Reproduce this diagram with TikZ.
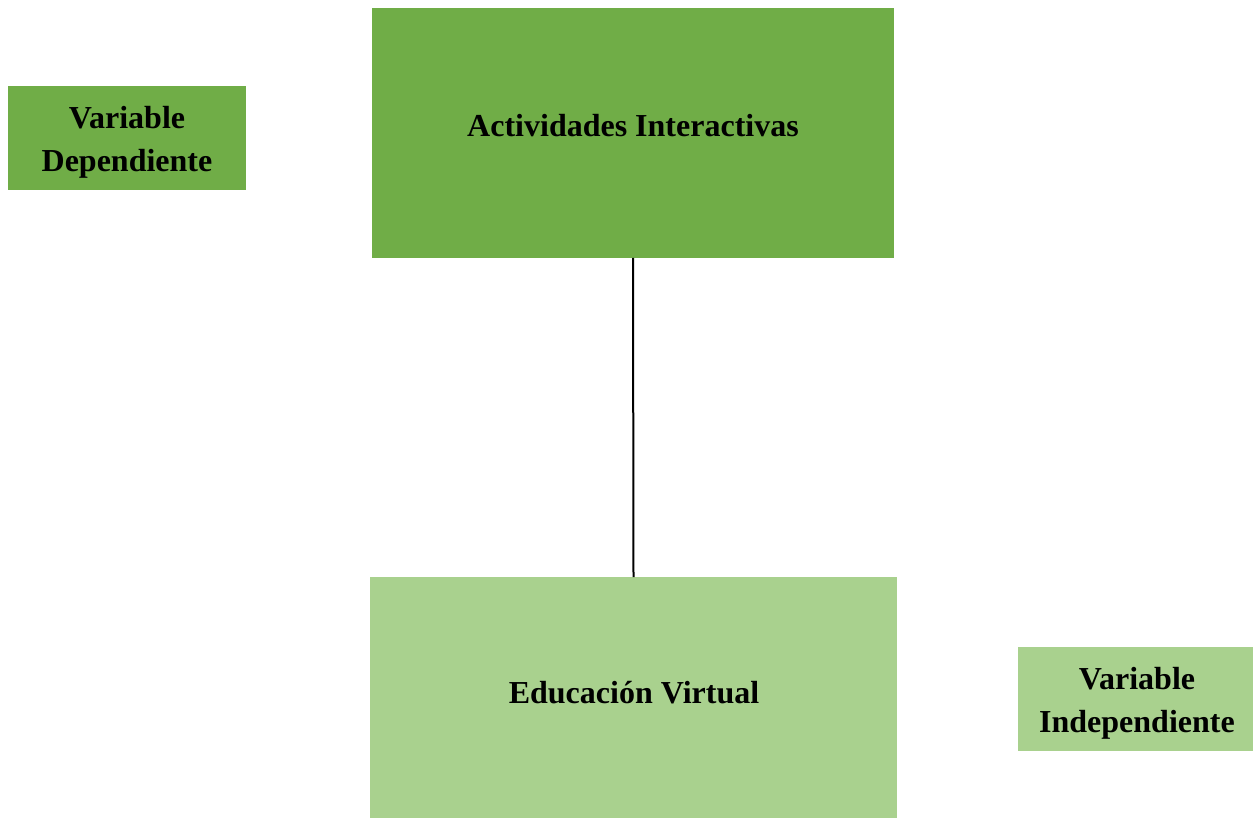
\documentclass[tikz,border=0pt]{standalone}
\usepackage{fontspec}
\setmainfont{Liberation Serif}
\definecolor{darkgreen}{HTML}{70AD47}
\definecolor{lightgreen}{HTML}{A9D18E}
\begin{document}
\begin{tikzpicture}[x=1pt,y=-1pt,
  box/.style={inner sep=0pt, outer sep=0pt, anchor=north west},
  label/.style={font=\fontsize{32}{43}\selectfont\bfseries, align=center, inner sep=0pt, text=black}]
\useasboundingbox (0,0) rectangle (1253,818);
% boxes
\fill[darkgreen] (372,8) rectangle (894,258);
\node[box, minimum width=522pt, minimum height=250pt] (act) at (372,8) {};
\fill[lightgreen] (370,577) rectangle (897,818);
\node[box, minimum width=527pt, minimum height=241pt] (edu) at (370,577) {};
\fill[darkgreen] (8,86) rectangle (246,190);
\node[box, minimum width=238pt, minimum height=104pt] (dep) at (8,86) {};
\fill[lightgreen] (1018,647) rectangle (1253,751);
\node[box, minimum width=235pt, minimum height=104pt] (ind) at (1018,647) {};
% texts
\node[label] at (633,126) {Actividades Interactivas};
\node[label] at (634,693) {Educación Virtual};
\node[label] at (127,142) {Variable\\Dependiente};
\node[label] at (1137,703) {Variable\\Independiente};
% connector
\draw[line width=2pt] (act.south) -- (edu.north);
\end{tikzpicture}
\end{document}
